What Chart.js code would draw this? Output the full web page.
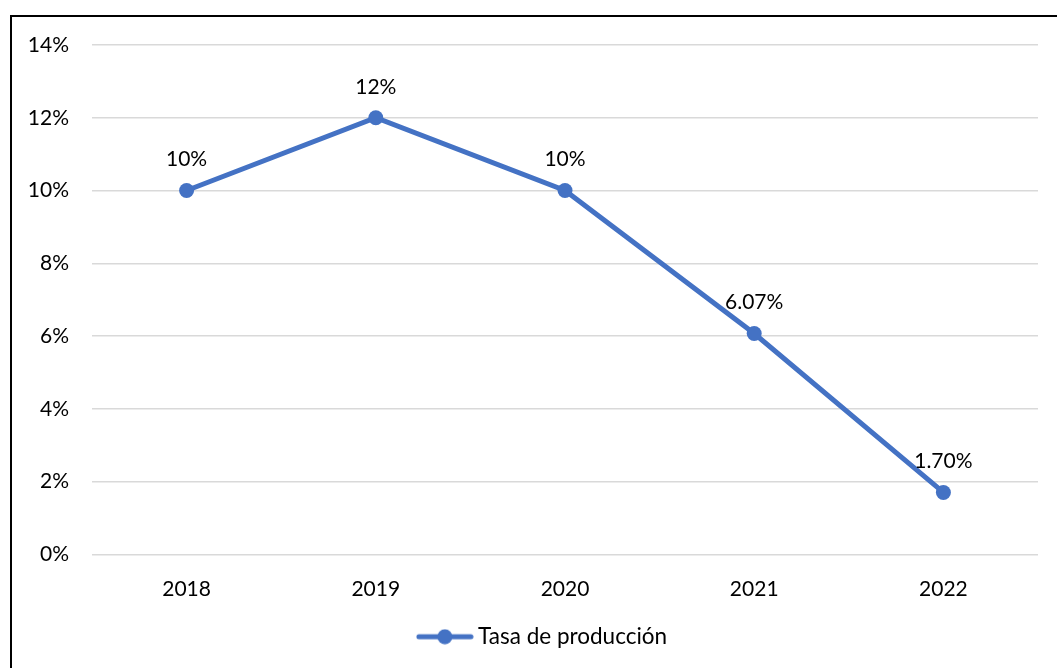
<!DOCTYPE html>
<html>
<head>
<meta charset="utf-8">
<script src="https://cdn.jsdelivr.net/npm/chart.js@4.4.1/dist/chart.umd.min.js"></script>
<style>
  html, body { margin: 0; padding: 0; background: #fff; overflow: hidden; }
  #wrap { position: relative; width: 1057px; height: 668px; }
  #frame {
    position: absolute; left: 10px; top: 15px; width: 1100px; height: 700px;
    border: 2px solid #000; box-sizing: border-box; pointer-events: none;
  }
  canvas { position: absolute; left: 0; top: 0; }
</style>
</head>
<body>
<div id="wrap">
  <canvas id="chart" width="1057" height="668"></canvas>
  <div id="frame"></div>
</div>
<script>
// Years and production rate (%)
const years = ['2018', '2019', '2020', '2021', '2022'];
const rates = [10, 12, 10, 6.07, 1.70];
const rateLabels = ['10%', '12%', '10%', '6.07%', '1.70%'];
const seriesName = 'Tasa de producción';

const BLUE = '#4472C4';
const FONT = 'Lato, "Open Sans", sans-serif';
const FS = 21;

// Legend swatch: short line with a dot in the middle
function legendSwatch() {
  const c = document.createElement('canvas');
  c.width = 58; c.height = 16;
  const g = c.getContext('2d');
  g.strokeStyle = BLUE; g.lineWidth = 5; g.lineCap = 'round';
  g.beginPath(); g.moveTo(3, 8); g.lineTo(55, 8); g.stroke();
  g.fillStyle = BLUE;
  g.beginPath(); g.arc(29, 8, 7.5, 0, Math.PI * 2); g.fill();
  return c;
}

// Value labels above each point
const pointLabels = {
  id: 'pointLabels',
  afterDatasetsDraw(chart) {
    const ctx = chart.ctx;
    const meta = chart.getDatasetMeta(0);
    ctx.save();
    ctx.font = FS + 'px ' + FONT;
    ctx.fillStyle = '#000';
    ctx.textAlign = 'center';
    ctx.textBaseline = 'middle';
    meta.data.forEach((pt, i) => {
      ctx.fillText(rateLabels[i], pt.x, pt.y - 31);
    });
    ctx.restore();
  }
};

// Nudge the legend a little to the right of the plot centre
const legendShift = {
  id: 'legendShift',
  afterLayout(chart) {
    if (chart.legend) {
      chart.legend.left += 26;
      chart.legend.right += 26;
    }
  }
};

new Chart(document.getElementById('chart'), {
  type: 'line',
  data: {
    labels: years,
    datasets: [{
      label: seriesName,
      data: rates,
      borderColor: BLUE,
      backgroundColor: BLUE,
      borderWidth: 5,
      pointRadius: 7.5,
      pointHoverRadius: 7.5,
      pointBackgroundColor: BLUE,
      pointBorderWidth: 0,
      tension: 0
    }]
  },
  options: {
    responsive: false,
    animation: false,
    layout: { padding: { left: 0, top: 45, right: 19, bottom: 10 } },
    scales: {
      x: {
        offset: true,
        grid: { display: false },
        border: { display: false },
        ticks: { color: '#000', font: { family: FONT, size: FS }, padding: 14 }
      },
      y: {
        min: 0, max: 14,
        grid: { color: '#d9d9d9', lineWidth: 1.5, drawTicks: false },
        border: { display: false },
        ticks: {
          stepSize: 2,
          color: '#000',
          padding: 23,
          font: { family: FONT, size: FS },
          callback: v => v + '%'
        },
        afterFit(scale) { scale.width = 92; }
      }
    },
    plugins: {
      legend: {
        position: 'bottom',
        labels: {
          color: '#000',
          font: { family: FONT, size: 22.5 },
          usePointStyle: true,
          pointStyleWidth: 44,
          padding: 10,
          generateLabels(chart) {
            return [{
              text: seriesName,
              pointStyle: legendSwatch(),
              fillStyle: BLUE,
              strokeStyle: BLUE,
              lineWidth: 0,
              datasetIndex: 0,
              fontColor: '#000'
            }];
          }
        }
      },
      tooltip: { enabled: false }
    }
  },
  plugins: [pointLabels, legendShift]
});
</script>
</body>
</html>
